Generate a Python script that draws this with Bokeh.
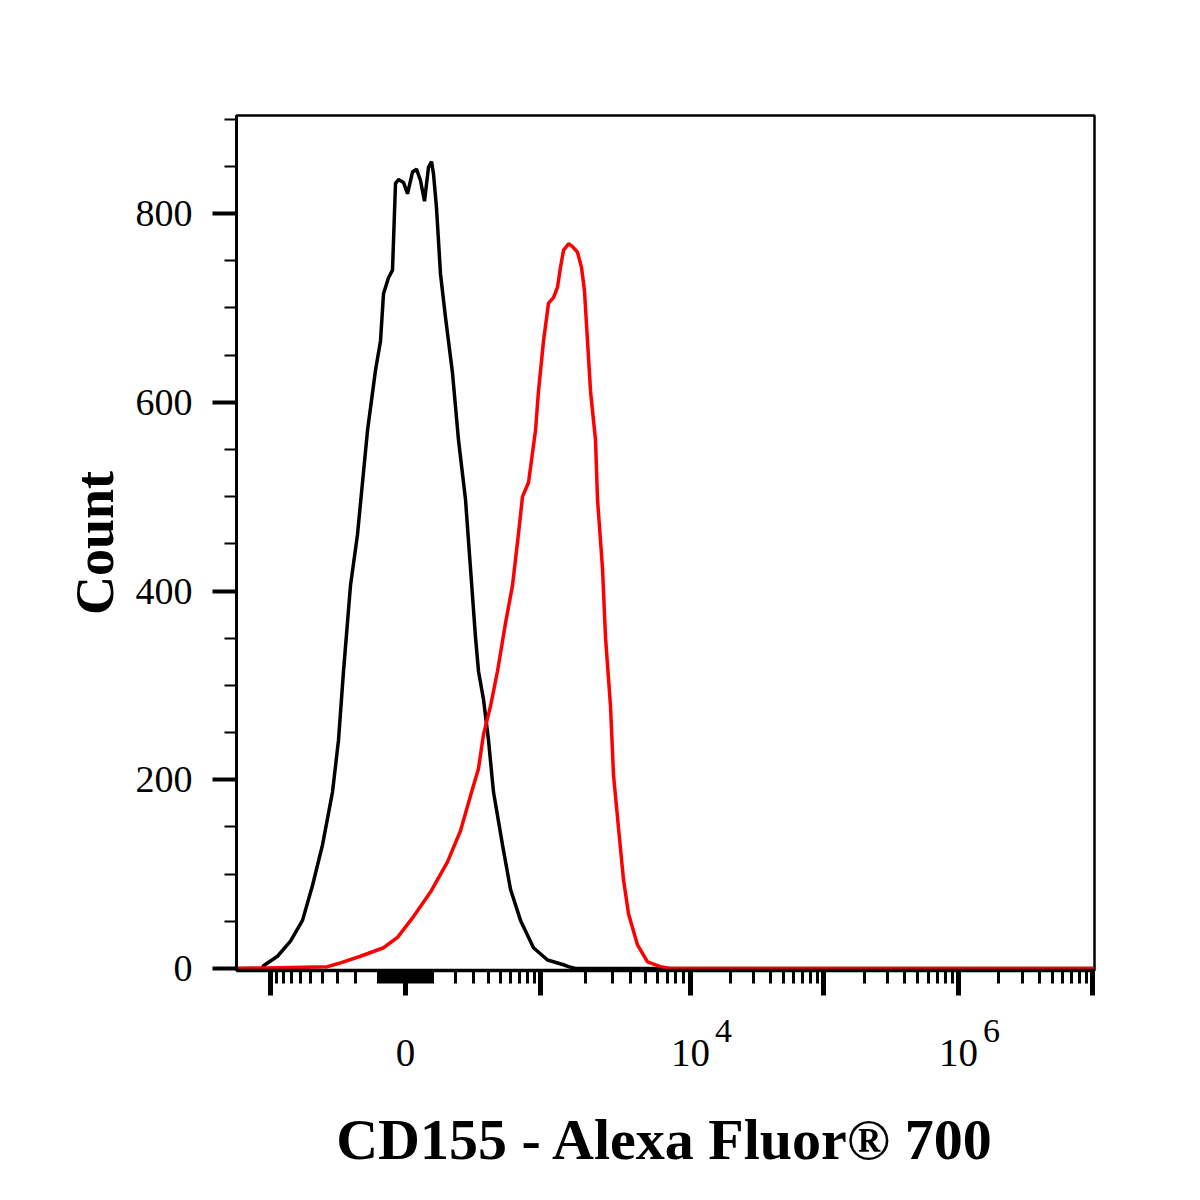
import numpy as np
from bokeh.plotting import figure
from bokeh.models import Range1d, FixedTicker, LinearAxis
from bokeh.embed import file_html
from bokeh.resources import INLINE

# ---- data: x in display channels of a biexponential axis (0 = zero signal) ----
isotype_x = [-169, -143, -142, -128, -115, -103, -93, -83, -73, -67, -62, -55, -48, -38,
             -30, -25, -22, -17, -13, -10, -7, -2, 2, 7, 11, 15, 19, 23, 26, 28, 31, 35,
             40, 47, 53, 60, 65, 70, 73, 78, 83, 88, 97, 105, 115, 128, 142, 158, 163,
             170, 689]
isotype_count = [0, 0, 3, 13, 29, 51, 88, 131, 187, 242, 315, 406, 460, 570,
                 634, 665, 715, 732, 740, 832, 836, 833, 821, 844, 847, 835, 813, 849, 855, 842, 806, 736,
                 690, 631, 560, 497, 424, 351, 315, 285, 242, 187, 131, 84, 51, 22, 9, 4, 2,
                 0, 0]

cd155_x = [-169, -78, -68, -45, -22, -8, 8, 25, 42, 55, 65, 73, 78, 85, 92, 100, 107,
           113, 117, 123, 130, 133, 138, 143, 148, 152, 155, 158, 163, 167, 172, 176,
           179, 182, 185, 190, 192, 197, 200, 205, 208, 213, 218, 223, 232, 242, 255,
           265, 689]
cd155_count = [0, 2, 5, 13, 22, 33, 55, 81, 113, 146, 183, 212, 248, 278, 315, 366, 406,
               461, 500, 515, 570, 612, 665, 705, 711, 722, 743, 761, 768, 765, 759, 743,
               718, 665, 612, 560, 497, 424, 351, 278, 205, 149, 94, 58, 25, 7, 2,
               0, 0]

y_major = [0, 200, 400, 600, 800]
y_minor = [50, 100, 150, 250, 300, 350, 450, 500, 550, 650, 700, 750, 850, 900]

x_major_values = [-1e3, 0, 1e3, 1e4, 1e5, 1e6, 1e7]
x_major_text = ["", "0", "", "10", "", "10", ""]
x_exp_values = [1e4, 1e6]
x_exp_text = ["4", "6"]


def disp(v):
    """biexponential-like display transform (channel units)."""
    a = abs(v)
    if a <= 1000:
        d = 135 * np.arcsinh(a / 215.0) / np.arcsinh(1000 / 215.0)
    else:
        d = np.interp(np.log10(a), [3, 4, 5, 6, 7], [135, 285, 418, 553, 687])
    return round(float(np.sign(v) * d), 3)


minor_vals = []
for k in [1, 2]:
    for m in range(1, 10):
        minor_vals += [m * 10 ** k, -m * 10 ** k]
for k in [3, 4, 5, 6]:
    for m in range(2, 10):
        minor_vals.append(m * 10 ** k)

x_major_pos = [disp(v) for v in x_major_values]
x_minor_pos = sorted(disp(v) for v in minor_vals)
x_exp_pos = [disp(v) + 33 for v in x_exp_values]

FONT = "Liberation Serif"

p = figure(width=1184, height=1184, output_backend="svg", toolbar_location=None,
           x_range=Range1d(-169, 689), y_range=Range1d(-2.1, 903.9))
p.min_border_left = 236
p.min_border_right = 90
p.min_border_top = 115
p.min_border_bottom = 214
p.background_fill_color = "white"
p.border_fill_color = "white"
p.outline_line_color = "black"
p.outline_line_width = 2.5
p.grid.visible = False

p.line(isotype_x, isotype_count, line_color="black", line_width=3.5)
p.line(cd155_x, cd155_count, line_color="#ff0000", line_width=3.5)

xa = p.xaxis[0]
xa.ticker = FixedTicker(ticks=x_major_pos, minor_ticks=x_minor_pos)
xa.major_label_overrides = {pos: t for pos, t in zip(x_major_pos, x_major_text)}
xa.axis_line_width = 3.5
xa.major_tick_line_width = 5
xa.major_tick_out = 25
xa.major_tick_in = 0
xa.minor_tick_line_width = 3
xa.minor_tick_out = 13
xa.minor_tick_in = 0
xa.major_label_standoff = 44
xa.major_label_text_font = FONT
xa.major_label_text_font_size = "39px"
xa.major_label_text_color = "black"

# exponent row (superscripts) + axis title, pulled up next to the "10" labels
xb = LinearAxis(ticker=FixedTicker(ticks=x_exp_pos, minor_ticks=[]))
xb.major_label_overrides = {pos: t for pos, t in zip(x_exp_pos, x_exp_text)}
xb.axis_line_color = None
xb.major_tick_line_color = None
xb.minor_tick_line_color = None
xb.major_tick_out = 0
xb.major_tick_in = 0
xb.minor_tick_out = 0
xb.minor_tick_in = 0
xb.major_label_standoff = -49
xb.major_label_text_font = FONT
xb.major_label_text_font_size = "34px"
xb.major_label_text_color = "black"
xb.axis_label = "CD155 - Alexa Fluor® 700"
xb.axis_label_text_font = FONT
xb.axis_label_text_font_style = "bold"
xb.axis_label_text_font_size = "58px"
xb.axis_label_text_color = "black"
xb.axis_label_standoff = 62
p.add_layout(xb, "below")

ya = p.yaxis[0]
ya.ticker = FixedTicker(ticks=y_major, minor_ticks=y_minor)
ya.axis_line_width = 3
ya.major_tick_line_width = 4
ya.major_tick_out = 24
ya.major_tick_in = 0
ya.minor_tick_line_width = 2
ya.minor_tick_out = 12
ya.minor_tick_in = 0
ya.major_label_standoff = 20
ya.major_label_text_font = FONT
ya.major_label_text_font_size = "38px"
ya.major_label_text_color = "black"
ya.axis_label = "Count"
ya.axis_label_text_font = FONT
ya.axis_label_text_font_style = "bold"
ya.axis_label_text_font_size = "54px"
ya.axis_label_text_color = "black"
ya.axis_label_standoff = 8

open("out.html", "w").write(file_html(p, INLINE))
